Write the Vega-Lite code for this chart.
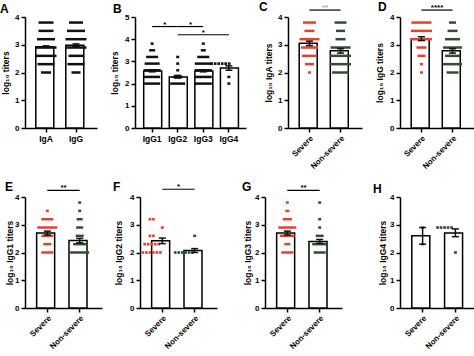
{
  "$schema": "https://vega.github.io/schema/vega-lite/v6.json",
  "padding": {"left": 0, "top": 0, "right": 0, "bottom": 0},
  "background": "white",
  "config": {
    "view": {"stroke": null},
    "font": "Liberation Sans",
    "axis": {"grid": false, "domainColor": "#000", "domainWidth": 1.5, "tickColor": "#000", "tickWidth": 1.5, "tickSize": 4, "labelColor": "#000", "titleColor": "#000", "labelFont": "Liberation Sans", "titleFont": "Liberation Sans", "labelFontWeight": "bold", "titleFontWeight": "bold", "labelFontSize": 8, "titleFontSize": 8.5, "labelPadding": 2},
    "axisX": {"labelFontSize": 8.5},
    "title": {"anchor": "start", "frame": "group", "fontSize": 12, "fontWeight": "bold", "font": "Liberation Sans", "color": "#000", "offset": -3},
    "tick": {"thickness": 2.5, "opacity": 1}
  },
  "datasets": {
    "bars": [
      {"p": "A", "g": "IgA", "mean": 2.93, "lo": 2.9, "hi": 2.96},
      {"p": "A", "g": "IgG", "mean": 2.98, "lo": 2.94, "hi": 3.03},
      {"p": "B", "g": "IgG1", "mean": 2.57, "lo": 2.53, "hi": 2.61},
      {"p": "B", "g": "IgG2", "mean": 2.3, "lo": 2.25, "hi": 2.37},
      {"p": "B", "g": "IgG3", "mean": 2.57, "lo": 2.53, "hi": 2.61},
      {"p": "B", "g": "IgG4", "mean": 2.7, "lo": 2.6, "hi": 2.8},
      {"p": "C", "g": "Severe", "mean": 3.05, "lo": 2.97, "hi": 3.13},
      {"p": "C", "g": "Non-severe", "mean": 2.78, "lo": 2.7, "hi": 2.86},
      {"p": "D", "g": "Severe", "mean": 3.22, "lo": 3.15, "hi": 3.29},
      {"p": "D", "g": "Non-severe", "mean": 2.78, "lo": 2.7, "hi": 2.86},
      {"p": "E", "g": "Severe", "mean": 2.7, "lo": 2.63, "hi": 2.77},
      {"p": "E", "g": "Non-severe", "mean": 2.43, "lo": 2.35, "hi": 2.51},
      {"p": "F", "g": "Severe", "mean": 2.42, "lo": 2.32, "hi": 2.52},
      {"p": "F", "g": "Non-severe", "mean": 2.07, "lo": 2.0, "hi": 2.14},
      {"p": "G", "g": "Severe", "mean": 2.7, "lo": 2.63, "hi": 2.77},
      {"p": "G", "g": "Non-severe", "mean": 2.4, "lo": 2.33, "hi": 2.47},
      {"p": "H", "g": "Severe", "mean": 2.6, "lo": 2.3, "hi": 2.9},
      {"p": "H", "g": "Non-severe", "mean": 2.7, "lo": 2.57, "hi": 2.85}
    ],
    "dots": [
      {"p": "A", "g": "IgA", "k": "pooled", "v": 3.8, "n": 13},
      {"p": "A", "g": "IgA", "k": "pooled", "v": 3.5, "n": 13},
      {"p": "A", "g": "IgA", "k": "pooled", "v": 3.2, "n": 16},
      {"p": "A", "g": "IgA", "k": "pooled", "v": 2.9, "n": 19},
      {"p": "A", "g": "IgA", "k": "pooled", "v": 2.6, "n": 19},
      {"p": "A", "g": "IgA", "k": "pooled", "v": 2.3, "n": 15},
      {"p": "A", "g": "IgA", "k": "pooled", "v": 2.0, "n": 8},
      {"p": "A", "g": "IgG", "k": "pooled", "v": 3.8, "n": 12},
      {"p": "A", "g": "IgG", "k": "pooled", "v": 3.5, "n": 16},
      {"p": "A", "g": "IgG", "k": "pooled", "v": 3.2, "n": 19},
      {"p": "A", "g": "IgG", "k": "pooled", "v": 2.9, "n": 19},
      {"p": "A", "g": "IgG", "k": "pooled", "v": 2.6, "n": 13},
      {"p": "A", "g": "IgG", "k": "pooled", "v": 2.3, "n": 15},
      {"p": "A", "g": "IgG", "k": "pooled", "v": 2.0, "n": 7},
      {"p": "B", "g": "IgG1", "k": "pooled", "v": 3.8, "n": 1},
      {"p": "B", "g": "IgG1", "k": "pooled", "v": 3.5, "n": 4},
      {"p": "B", "g": "IgG1", "k": "pooled", "v": 3.2, "n": 10},
      {"p": "B", "g": "IgG1", "k": "pooled", "v": 2.9, "n": 13},
      {"p": "B", "g": "IgG1", "k": "pooled", "v": 2.6, "n": 15},
      {"p": "B", "g": "IgG1", "k": "pooled", "v": 2.3, "n": 14},
      {"p": "B", "g": "IgG1", "k": "pooled", "v": 2.0, "n": 14},
      {"p": "B", "g": "IgG2", "k": "pooled", "v": 3.2, "n": 1},
      {"p": "B", "g": "IgG2", "k": "pooled", "v": 2.9, "n": 1},
      {"p": "B", "g": "IgG2", "k": "pooled", "v": 2.6, "n": 1},
      {"p": "B", "g": "IgG2", "k": "pooled", "v": 2.3, "n": 8},
      {"p": "B", "g": "IgG2", "k": "pooled", "v": 2.0, "n": 13},
      {"p": "B", "g": "IgG3", "k": "pooled", "v": 3.8, "n": 1},
      {"p": "B", "g": "IgG3", "k": "pooled", "v": 3.5, "n": 3},
      {"p": "B", "g": "IgG3", "k": "pooled", "v": 3.2, "n": 10},
      {"p": "B", "g": "IgG3", "k": "pooled", "v": 2.9, "n": 15},
      {"p": "B", "g": "IgG3", "k": "pooled", "v": 2.6, "n": 15},
      {"p": "B", "g": "IgG3", "k": "pooled", "v": 2.3, "n": 15},
      {"p": "B", "g": "IgG3", "k": "pooled", "v": 2.0, "n": 15},
      {"p": "B", "g": "IgG4", "k": "pooled", "v": 2.3, "n": 1},
      {"p": "B", "g": "IgG4", "k": "pooled", "v": 2.0, "n": 1},
      {"p": "C", "g": "Severe", "k": "Severe", "v": 3.8, "n": 11},
      {"p": "C", "g": "Severe", "k": "Severe", "v": 3.5, "n": 8},
      {"p": "C", "g": "Severe", "k": "Severe", "v": 3.2, "n": 18},
      {"p": "C", "g": "Severe", "k": "Severe", "v": 2.9, "n": 15},
      {"p": "C", "g": "Severe", "k": "Severe", "v": 2.6, "n": 13},
      {"p": "C", "g": "Severe", "k": "Severe", "v": 2.3, "n": 7},
      {"p": "C", "g": "Severe", "k": "Severe", "v": 2.0, "n": 1},
      {"p": "C", "g": "Non-severe", "k": "Non-severe", "v": 3.8, "n": 10},
      {"p": "C", "g": "Non-severe", "k": "Non-severe", "v": 3.5, "n": 7},
      {"p": "C", "g": "Non-severe", "k": "Non-severe", "v": 3.2, "n": 8},
      {"p": "C", "g": "Non-severe", "k": "Non-severe", "v": 2.9, "n": 18},
      {"p": "C", "g": "Non-severe", "k": "Non-severe", "v": 2.6, "n": 19},
      {"p": "C", "g": "Non-severe", "k": "Non-severe", "v": 2.3, "n": 19},
      {"p": "C", "g": "Non-severe", "k": "Non-severe", "v": 2.0, "n": 15},
      {"p": "D", "g": "Severe", "k": "Severe", "v": 3.8, "n": 18},
      {"p": "D", "g": "Severe", "k": "Severe", "v": 3.5, "n": 19},
      {"p": "D", "g": "Severe", "k": "Severe", "v": 3.2, "n": 19},
      {"p": "D", "g": "Severe", "k": "Severe", "v": 2.9, "n": 8},
      {"p": "D", "g": "Severe", "k": "Severe", "v": 2.6, "n": 6},
      {"p": "D", "g": "Severe", "k": "Severe", "v": 2.3, "n": 1},
      {"p": "D", "g": "Severe", "k": "Severe", "v": 2.0, "n": 1},
      {"p": "D", "g": "Non-severe", "k": "Non-severe", "v": 3.8, "n": 5},
      {"p": "D", "g": "Non-severe", "k": "Non-severe", "v": 3.5, "n": 8},
      {"p": "D", "g": "Non-severe", "k": "Non-severe", "v": 3.2, "n": 13},
      {"p": "D", "g": "Non-severe", "k": "Non-severe", "v": 2.9, "n": 17},
      {"p": "D", "g": "Non-severe", "k": "Non-severe", "v": 2.6, "n": 13},
      {"p": "D", "g": "Non-severe", "k": "Non-severe", "v": 2.3, "n": 17},
      {"p": "D", "g": "Non-severe", "k": "Non-severe", "v": 2.0, "n": 10},
      {"p": "E", "g": "Severe", "k": "Severe", "v": 3.5, "n": 1},
      {"p": "E", "g": "Severe", "k": "Severe", "v": 3.2, "n": 10},
      {"p": "E", "g": "Severe", "k": "Severe", "v": 2.9, "n": 18},
      {"p": "E", "g": "Severe", "k": "Severe", "v": 2.6, "n": 10},
      {"p": "E", "g": "Severe", "k": "Severe", "v": 2.3, "n": 6},
      {"p": "E", "g": "Severe", "k": "Severe", "v": 2.0, "n": 10},
      {"p": "E", "g": "Non-severe", "k": "Non-severe", "v": 3.8, "n": 1},
      {"p": "E", "g": "Non-severe", "k": "Non-severe", "v": 3.5, "n": 1},
      {"p": "E", "g": "Non-severe", "k": "Non-severe", "v": 3.2, "n": 4},
      {"p": "E", "g": "Non-severe", "k": "Non-severe", "v": 2.9, "n": 5},
      {"p": "E", "g": "Non-severe", "k": "Non-severe", "v": 2.6, "n": 6},
      {"p": "E", "g": "Non-severe", "k": "Non-severe", "v": 2.3, "n": 11},
      {"p": "E", "g": "Non-severe", "k": "Non-severe", "v": 2.0, "n": 17},
      {"p": "F", "g": "Severe", "k": "Severe", "v": 2.9, "n": 1},
      {"p": "F", "g": "Non-severe", "k": "Non-severe", "v": 2.6, "n": 1},
      {"p": "G", "g": "Severe", "k": "Severe", "v": 3.8, "n": 1},
      {"p": "G", "g": "Severe", "k": "Severe", "v": 3.5, "n": 2},
      {"p": "G", "g": "Severe", "k": "Severe", "v": 3.2, "n": 7},
      {"p": "G", "g": "Severe", "k": "Severe", "v": 2.9, "n": 16},
      {"p": "G", "g": "Severe", "k": "Severe", "v": 2.6, "n": 13},
      {"p": "G", "g": "Severe", "k": "Severe", "v": 2.3, "n": 4},
      {"p": "G", "g": "Severe", "k": "Severe", "v": 2.0, "n": 10},
      {"p": "G", "g": "Non-severe", "k": "Non-severe", "v": 3.8, "n": 1},
      {"p": "G", "g": "Non-severe", "k": "Non-severe", "v": 3.2, "n": 1},
      {"p": "G", "g": "Non-severe", "k": "Non-severe", "v": 2.9, "n": 1},
      {"p": "G", "g": "Non-severe", "k": "Non-severe", "v": 2.6, "n": 6},
      {"p": "G", "g": "Non-severe", "k": "Non-severe", "v": 2.3, "n": 13},
      {"p": "G", "g": "Non-severe", "k": "Non-severe", "v": 2.0, "n": 10},
      {"p": "H", "g": "Severe", "k": "Severe", "v": 2.9, "n": 1},
      {"p": "H", "g": "Severe", "k": "Severe", "v": 2.3, "n": 1},
      {"p": "H", "g": "Non-severe", "k": "Non-severe", "v": 2.0, "n": 1}
    ],
    "pts": [
      {"p": "B", "g": "IgG4", "k": "pooled", "v": 2.9, "s": -2.5},
      {"p": "B", "g": "IgG4", "k": "pooled", "v": 2.9, "s": -1.5},
      {"p": "B", "g": "IgG4", "k": "pooled", "v": 2.9, "s": -0.5},
      {"p": "B", "g": "IgG4", "k": "pooled", "v": 2.9, "s": 0.5},
      {"p": "B", "g": "IgG4", "k": "pooled", "v": 2.9, "s": 1.5},
      {"p": "B", "g": "IgG4", "k": "pooled", "v": 2.9, "s": 2.5},
      {"p": "F", "g": "Severe", "k": "Severe", "v": 3.2, "s": -0.5},
      {"p": "F", "g": "Severe", "k": "Severe", "v": 3.2, "s": 0.5},
      {"p": "F", "g": "Severe", "k": "Severe", "v": 2.6, "s": -0.5},
      {"p": "F", "g": "Severe", "k": "Severe", "v": 2.6, "s": 0.5},
      {"p": "F", "g": "Severe", "k": "Severe", "v": 2.3, "s": -2},
      {"p": "F", "g": "Severe", "k": "Severe", "v": 2.3, "s": -1},
      {"p": "F", "g": "Severe", "k": "Severe", "v": 2.3, "s": 0},
      {"p": "F", "g": "Severe", "k": "Severe", "v": 2.3, "s": 1},
      {"p": "F", "g": "Severe", "k": "Severe", "v": 2.3, "s": 2},
      {"p": "F", "g": "Severe", "k": "Severe", "v": 2.0, "s": -2.5},
      {"p": "F", "g": "Severe", "k": "Severe", "v": 2.0, "s": -1.5},
      {"p": "F", "g": "Severe", "k": "Severe", "v": 2.0, "s": -0.5},
      {"p": "F", "g": "Severe", "k": "Severe", "v": 2.0, "s": 0.5},
      {"p": "F", "g": "Severe", "k": "Severe", "v": 2.0, "s": 1.5},
      {"p": "F", "g": "Severe", "k": "Severe", "v": 2.0, "s": 2.5},
      {"p": "F", "g": "Non-severe", "k": "Non-severe", "v": 2.0, "s": -2.5},
      {"p": "F", "g": "Non-severe", "k": "Non-severe", "v": 2.0, "s": -1.5},
      {"p": "F", "g": "Non-severe", "k": "Non-severe", "v": 2.0, "s": -0.5},
      {"p": "F", "g": "Non-severe", "k": "Non-severe", "v": 2.0, "s": 0.5},
      {"p": "F", "g": "Non-severe", "k": "Non-severe", "v": 2.0, "s": 1.5},
      {"p": "F", "g": "Non-severe", "k": "Non-severe", "v": 2.0, "s": 2.5},
      {"p": "H", "g": "Non-severe", "k": "Non-severe", "v": 2.9, "s": -2},
      {"p": "H", "g": "Non-severe", "k": "Non-severe", "v": 2.9, "s": -1},
      {"p": "H", "g": "Non-severe", "k": "Non-severe", "v": 2.9, "s": 0},
      {"p": "H", "g": "Non-severe", "k": "Non-severe", "v": 2.9, "s": 1},
      {"p": "H", "g": "Non-severe", "k": "Non-severe", "v": 2.9, "s": 2}
    ],
    "sig": [
      {"p": "B", "g": "IgG1", "g2": "IgG2", "v": 4.57, "label": "*"},
      {"p": "B", "g": "IgG2", "g2": "IgG3", "v": 4.57, "label": "*"},
      {"p": "B", "g": "IgG2", "g2": "IgG4", "v": 4.2, "label": "*"},
      {"p": "C", "g": "Severe", "g2": "Non-severe", "v": 4.25, "label": "**"},
      {"p": "D", "g": "Severe", "g2": "Non-severe", "v": 4.25, "label": "****"},
      {"p": "E", "g": "Severe", "g2": "Non-severe", "v": 4.24, "label": "**"},
      {"p": "F", "g": "Severe", "g2": "Non-severe", "v": 4.28, "label": "*"},
      {"p": "G", "g": "Severe", "g2": "Non-severe", "v": 4.24, "label": "**"}
    ]
  },
  "vconcat": [
    {
      "spacing": 13,
      "hconcat": [
        {
          "width": 72, "height": 111,
          "title": {"text": "A", "dx": -25, "offset": -3},
          "encoding": {"x": {"field": "g", "type": "nominal", "scale": {"domain": ["IgA", "IgG"], "paddingInner": 0.32, "paddingOuter": 0.36}, "axis": {"title": null, "labelAngle": 0}}},
          "layer": [
            {"data": {"name": "bars"}, "transform": [{"filter": "datum.p === 'A'"}], "mark": {"type": "bar", "fill": "white", "stroke": "#000", "strokeWidth": 1.5}, "encoding": {"y": {"field": "mean", "type": "quantitative", "scale": {"domain": [0, 4]}, "axis": {"title": "log₁₀ titers", "values": [0, 1, 2, 3, 4], "titlePadding": 4}}}},
            {"data": {"name": "dots"}, "transform": [{"filter": "datum.p === 'A'"}], "mark": {"type": "tick"}, "encoding": {"y": {"field": "v", "type": "quantitative", "axis": {"title": "log₁₀ titers", "values": [0, 1, 2, 3, 4], "titlePadding": 4}}, "size": {"field": "n", "type": "quantitative", "scale": {"domain": [1, 20], "range": [3, 22]}, "legend": null}, "color": {"field": "k", "type": "nominal", "scale": {"domain": ["pooled", "Severe", "Non-severe"], "range": ["#111111", "#e5402d", "#2f4f2f"]}, "legend": null}}},
            {"data": {"name": "bars"}, "transform": [{"filter": "datum.p === 'A'"}], "mark": {"type": "errorbar", "ticks": {"size": 7}, "thickness": 1.5, "color": "#111"}, "encoding": {"y": {"field": "lo", "type": "quantitative", "axis": {"title": "log₁₀ titers", "values": [0, 1, 2, 3, 4], "titlePadding": 4}}, "y2": {"field": "hi"}}}
          ]
        },
        {
          "width": 111, "height": 111,
          "title": {"text": "B", "dx": -22, "offset": -3},
          "encoding": {"x": {"field": "g", "type": "nominal", "scale": {"domain": ["IgG1", "IgG2", "IgG3", "IgG4"], "paddingInner": 0.34, "paddingOuter": 0.34}, "axis": {"title": null, "labelAngle": 0}}},
          "layer": [
            {"data": {"name": "bars"}, "transform": [{"filter": "datum.p === 'B'"}], "mark": {"type": "bar", "fill": "white", "stroke": "#000", "strokeWidth": 1.5}, "encoding": {"y": {"field": "mean", "type": "quantitative", "scale": {"domain": [0, 5]}, "axis": {"title": "log₁₀ titers", "values": [0, 1, 2, 3, 4, 5], "titlePadding": 5}}}},
            {"data": {"name": "dots"}, "transform": [{"filter": "datum.p === 'B'"}], "mark": {"type": "tick"}, "encoding": {"y": {"field": "v", "type": "quantitative", "axis": {"title": "log₁₀ titers", "values": [0, 1, 2, 3, 4, 5], "titlePadding": 5}}, "size": {"field": "n", "type": "quantitative", "scale": {"domain": [1, 20], "range": [3, 22]}, "legend": null}, "color": {"field": "k", "type": "nominal", "scale": {"domain": ["pooled", "Severe", "Non-severe"], "range": ["#111111", "#e5402d", "#2f4f2f"]}, "legend": null}}},
            {"data": {"name": "pts"}, "transform": [{"filter": "datum.p === 'B'"}], "mark": {"type": "point", "shape": "square", "filled": true, "size": 7, "opacity": 1}, "encoding": {"xOffset": {"field": "s", "type": "quantitative", "scale": {"domain": [-3, 3], "range": [-10.5, 10.5]}}, "y": {"field": "v", "type": "quantitative", "axis": {"title": "log₁₀ titers", "values": [0, 1, 2, 3, 4, 5], "titlePadding": 5}}, "color": {"field": "k", "type": "nominal", "scale": {"domain": ["pooled", "Severe", "Non-severe"], "range": ["#111111", "#e5402d", "#2f4f2f"]}, "legend": null}}},
            {"data": {"name": "bars"}, "transform": [{"filter": "datum.p === 'B'"}], "mark": {"type": "errorbar", "ticks": {"size": 7}, "thickness": 1.5, "color": "#111"}, "encoding": {"y": {"field": "lo", "type": "quantitative", "axis": {"title": "log₁₀ titers", "values": [0, 1, 2, 3, 4, 5], "titlePadding": 5}}, "y2": {"field": "hi"}}},
            {"data": {"name": "sig"}, "transform": [{"filter": "datum.p === 'B'"}], "mark": {"type": "rule", "strokeWidth": 1.2, "color": "#000"}, "encoding": {"x2": {"field": "g2"}, "y": {"field": "v", "type": "quantitative", "axis": {"title": "log₁₀ titers", "values": [0, 1, 2, 3, 4, 5], "titlePadding": 5}}}},
            {"data": {"name": "sig"}, "transform": [{"filter": "datum.p === 'B' && datum.v > 4.4"}], "mark": {"type": "text", "baseline": "bottom", "dy": 2, "fontSize": 8, "fontWeight": "bold", "color": "#000"}, "encoding": {"x": {"field": "g", "type": "nominal", "bandPosition": 1.258, "axis": {"title": null, "labelAngle": 0}}, "y": {"field": "v", "type": "quantitative", "axis": {"title": "log₁₀ titers", "values": [0, 1, 2, 3, 4, 5], "titlePadding": 5}}, "text": {"field": "label"}}},
            {"data": {"name": "sig"}, "transform": [{"filter": "datum.p === 'B' && datum.v < 4.4"}], "mark": {"type": "text", "baseline": "bottom", "dy": 2, "fontSize": 8, "fontWeight": "bold", "color": "#000"}, "encoding": {"x": {"field": "g", "type": "nominal", "bandPosition": 2.015, "axis": {"title": null, "labelAngle": 0}}, "y": {"field": "v", "type": "quantitative", "axis": {"title": "log₁₀ titers", "values": [0, 1, 2, 3, 4, 5], "titlePadding": 5}}, "text": {"field": "label"}}}
          ]
        },
        {
          "width": 74, "height": 111,
          "title": {"text": "C", "dx": -29, "offset": -9.5},
          "encoding": {"x": {"field": "g", "type": "nominal", "scale": {"domain": ["Severe", "Non-severe"], "paddingInner": 0.34, "paddingOuter": 0.36}, "axis": {"title": null, "labelAngle": -45, "labelFontSize": 8}}},
          "layer": [
            {"data": {"name": "bars"}, "transform": [{"filter": "datum.p === 'C'"}], "mark": {"type": "bar", "fill": "white", "stroke": "#000", "strokeWidth": 1.5}, "encoding": {"y": {"field": "mean", "type": "quantitative", "scale": {"domain": [0, 4]}, "axis": {"title": "log₁₀ IgA titers", "values": [0, 1, 2, 3, 4], "titlePadding": 4}}}},
            {"data": {"name": "dots"}, "transform": [{"filter": "datum.p === 'C'"}], "mark": {"type": "tick"}, "encoding": {"y": {"field": "v", "type": "quantitative", "axis": {"title": "log₁₀ IgA titers", "values": [0, 1, 2, 3, 4], "titlePadding": 4}}, "size": {"field": "n", "type": "quantitative", "scale": {"domain": [1, 20], "range": [3, 22]}, "legend": null}, "color": {"field": "k", "type": "nominal", "scale": {"domain": ["pooled", "Severe", "Non-severe"], "range": ["#111111", "#e5402d", "#2f4f2f"]}, "legend": null}}},
            {"data": {"name": "bars"}, "transform": [{"filter": "datum.p === 'C'"}], "mark": {"type": "errorbar", "ticks": {"size": 7}, "thickness": 1.5, "color": "#111"}, "encoding": {"y": {"field": "lo", "type": "quantitative", "axis": {"title": "log₁₀ IgA titers", "values": [0, 1, 2, 3, 4], "titlePadding": 4}}, "y2": {"field": "hi"}}},
            {"data": {"name": "sig"}, "transform": [{"filter": "datum.p === 'C'"}], "mark": {"type": "rule", "strokeWidth": 1.2, "color": "#000"}, "encoding": {"x2": {"field": "g2"}, "y": {"field": "v", "type": "quantitative", "axis": {"title": "log₁₀ IgA titers", "values": [0, 1, 2, 3, 4], "titlePadding": 4}}}},
            {"data": {"name": "sig"}, "transform": [{"filter": "datum.p === 'C'"}], "mark": {"type": "text", "baseline": "bottom", "dy": 2, "fontSize": 8, "fontWeight": "bold", "color": "#aaaaaa"}, "encoding": {"x": {"field": "g", "type": "nominal", "bandPosition": 1.258, "axis": {"title": null, "labelAngle": -45, "labelFontSize": 8}}, "y": {"field": "v", "type": "quantitative", "axis": {"title": "log₁₀ IgA titers", "values": [0, 1, 2, 3, 4], "titlePadding": 4}}, "text": {"field": "label"}}}
          ]
        },
        {
          "width": 74, "height": 111,
          "title": {"text": "D", "dx": -22, "offset": -9.5},
          "encoding": {"x": {"field": "g", "type": "nominal", "scale": {"domain": ["Severe", "Non-severe"], "paddingInner": 0.34, "paddingOuter": 0.36}, "axis": {"title": null, "labelAngle": -45, "labelFontSize": 8}}},
          "layer": [
            {"data": {"name": "bars"}, "transform": [{"filter": "datum.p === 'D'"}], "mark": {"type": "bar", "fill": "white", "stroke": "#000", "strokeWidth": 1.5}, "encoding": {"y": {"field": "mean", "type": "quantitative", "scale": {"domain": [0, 4]}, "axis": {"title": "log₁₀ IgG titers", "values": [0, 1, 2, 3, 4], "titlePadding": 5}}}},
            {"data": {"name": "dots"}, "transform": [{"filter": "datum.p === 'D'"}], "mark": {"type": "tick"}, "encoding": {"y": {"field": "v", "type": "quantitative", "axis": {"title": "log₁₀ IgG titers", "values": [0, 1, 2, 3, 4], "titlePadding": 5}}, "size": {"field": "n", "type": "quantitative", "scale": {"domain": [1, 20], "range": [3, 22]}, "legend": null}, "color": {"field": "k", "type": "nominal", "scale": {"domain": ["pooled", "Severe", "Non-severe"], "range": ["#111111", "#e5402d", "#2f4f2f"]}, "legend": null}}},
            {"data": {"name": "bars"}, "transform": [{"filter": "datum.p === 'D'"}], "mark": {"type": "errorbar", "ticks": {"size": 7}, "thickness": 1.5, "color": "#111"}, "encoding": {"y": {"field": "lo", "type": "quantitative", "axis": {"title": "log₁₀ IgG titers", "values": [0, 1, 2, 3, 4], "titlePadding": 5}}, "y2": {"field": "hi"}}},
            {"data": {"name": "sig"}, "transform": [{"filter": "datum.p === 'D'"}], "mark": {"type": "rule", "strokeWidth": 1.2, "color": "#000"}, "encoding": {"x2": {"field": "g2"}, "y": {"field": "v", "type": "quantitative", "axis": {"title": "log₁₀ IgG titers", "values": [0, 1, 2, 3, 4], "titlePadding": 5}}}},
            {"data": {"name": "sig"}, "transform": [{"filter": "datum.p === 'D'"}], "mark": {"type": "text", "baseline": "bottom", "dy": 2, "fontSize": 8, "fontWeight": "bold", "color": "#000"}, "encoding": {"x": {"field": "g", "type": "nominal", "bandPosition": 1.258, "axis": {"title": null, "labelAngle": -45, "labelFontSize": 8}}, "y": {"field": "v", "type": "quantitative", "axis": {"title": "log₁₀ IgG titers", "values": [0, 1, 2, 3, 4], "titlePadding": 5}}, "text": {"field": "label"}}}
          ]
        }
      ]
    },
    {
      "spacing": 25,
      "hconcat": [
        {
          "spacing": 11,
          "hconcat": [
            {
              "width": 77, "height": 111,
              "title": {"text": "E", "dx": -20, "offset": -9.5},
              "encoding": {"x": {"field": "g", "type": "nominal", "scale": {"domain": ["Severe", "Non-severe"], "paddingInner": 0.34, "paddingOuter": 0.36}, "axis": {"title": null, "labelAngle": -45, "labelFontSize": 8}}},
              "layer": [
                {"data": {"name": "bars"}, "transform": [{"filter": "datum.p === 'E'"}], "mark": {"type": "bar", "fill": "white", "stroke": "#000", "strokeWidth": 1.5}, "encoding": {"y": {"field": "mean", "type": "quantitative", "scale": {"domain": [0, 4]}, "axis": {"title": "log₁₀ IgG1 titers", "values": [0, 1, 2, 3, 4], "titlePadding": 0.5}}}},
                {"data": {"name": "dots"}, "transform": [{"filter": "datum.p === 'E'"}], "mark": {"type": "tick"}, "encoding": {"y": {"field": "v", "type": "quantitative", "axis": {"title": "log₁₀ IgG1 titers", "values": [0, 1, 2, 3, 4], "titlePadding": 0.5}}, "size": {"field": "n", "type": "quantitative", "scale": {"domain": [1, 20], "range": [3, 22]}, "legend": null}, "color": {"field": "k", "type": "nominal", "scale": {"domain": ["pooled", "Severe", "Non-severe"], "range": ["#111111", "#e5402d", "#2f4f2f"]}, "legend": null}}},
                {"data": {"name": "bars"}, "transform": [{"filter": "datum.p === 'E'"}], "mark": {"type": "errorbar", "ticks": {"size": 7}, "thickness": 1.5, "color": "#111"}, "encoding": {"y": {"field": "lo", "type": "quantitative", "axis": {"title": "log₁₀ IgG1 titers", "values": [0, 1, 2, 3, 4], "titlePadding": 0.5}}, "y2": {"field": "hi"}}},
                {"data": {"name": "sig"}, "transform": [{"filter": "datum.p === 'E'"}], "mark": {"type": "rule", "strokeWidth": 1.2, "color": "#000"}, "encoding": {"x2": {"field": "g2"}, "y": {"field": "v", "type": "quantitative", "axis": {"title": "log₁₀ IgG1 titers", "values": [0, 1, 2, 3, 4], "titlePadding": 0.5}}}},
                {"data": {"name": "sig"}, "transform": [{"filter": "datum.p === 'E'"}], "mark": {"type": "text", "baseline": "bottom", "dy": 2, "fontSize": 8, "fontWeight": "bold", "color": "#000"}, "encoding": {"x": {"field": "g", "type": "nominal", "bandPosition": 1.258, "axis": {"title": null, "labelAngle": -45, "labelFontSize": 8}}, "y": {"field": "v", "type": "quantitative", "axis": {"title": "log₁₀ IgG1 titers", "values": [0, 1, 2, 3, 4], "titlePadding": 0.5}}, "text": {"field": "label"}}}
              ]
            },
            {
              "width": 77, "height": 111,
              "title": {"text": "F", "dx": -27, "offset": -10.5},
              "encoding": {"x": {"field": "g", "type": "nominal", "scale": {"domain": ["Severe", "Non-severe"], "paddingInner": 0.34, "paddingOuter": 0.36}, "axis": {"title": null, "labelAngle": -45, "labelFontSize": 8}}},
              "layer": [
                {"data": {"name": "bars"}, "transform": [{"filter": "datum.p === 'F'"}], "mark": {"type": "bar", "fill": "white", "stroke": "#000", "strokeWidth": 1.5}, "encoding": {"y": {"field": "mean", "type": "quantitative", "scale": {"domain": [0, 4]}, "axis": {"title": "log₁₀ IgG2 titers", "values": [0, 1, 2, 3, 4], "titlePadding": 6.5}}}},
                {"data": {"name": "dots"}, "transform": [{"filter": "datum.p === 'F'"}], "mark": {"type": "tick"}, "encoding": {"y": {"field": "v", "type": "quantitative", "axis": {"title": "log₁₀ IgG2 titers", "values": [0, 1, 2, 3, 4], "titlePadding": 6.5}}, "size": {"field": "n", "type": "quantitative", "scale": {"domain": [1, 20], "range": [3, 22]}, "legend": null}, "color": {"field": "k", "type": "nominal", "scale": {"domain": ["pooled", "Severe", "Non-severe"], "range": ["#111111", "#e5402d", "#2f4f2f"]}, "legend": null}}},
                {"data": {"name": "pts"}, "transform": [{"filter": "datum.p === 'F'"}], "mark": {"type": "point", "shape": "square", "filled": true, "size": 7, "opacity": 1}, "encoding": {"xOffset": {"field": "s", "type": "quantitative", "scale": {"domain": [-3, 3], "range": [-12, 12]}}, "y": {"field": "v", "type": "quantitative", "axis": {"title": "log₁₀ IgG2 titers", "values": [0, 1, 2, 3, 4], "titlePadding": 6.5}}, "color": {"field": "k", "type": "nominal", "scale": {"domain": ["pooled", "Severe", "Non-severe"], "range": ["#111111", "#e5402d", "#2f4f2f"]}, "legend": null}}},
                {"data": {"name": "bars"}, "transform": [{"filter": "datum.p === 'F'"}], "mark": {"type": "errorbar", "ticks": {"size": 7}, "thickness": 1.5, "color": "#111"}, "encoding": {"y": {"field": "lo", "type": "quantitative", "axis": {"title": "log₁₀ IgG2 titers", "values": [0, 1, 2, 3, 4], "titlePadding": 6.5}}, "y2": {"field": "hi"}}},
                {"data": {"name": "sig"}, "transform": [{"filter": "datum.p === 'F'"}], "mark": {"type": "rule", "strokeWidth": 1.2, "color": "#000"}, "encoding": {"x2": {"field": "g2"}, "y": {"field": "v", "type": "quantitative", "axis": {"title": "log₁₀ IgG2 titers", "values": [0, 1, 2, 3, 4], "titlePadding": 6.5}}}},
                {"data": {"name": "sig"}, "transform": [{"filter": "datum.p === 'F'"}], "mark": {"type": "text", "baseline": "bottom", "dy": 2, "fontSize": 8, "fontWeight": "bold", "color": "#000"}, "encoding": {"x": {"field": "g", "type": "nominal", "bandPosition": 1.258, "axis": {"title": null, "labelAngle": -45, "labelFontSize": 8}}, "y": {"field": "v", "type": "quantitative", "axis": {"title": "log₁₀ IgG2 titers", "values": [0, 1, 2, 3, 4], "titlePadding": 6.5}}, "text": {"field": "label"}}}
              ]
            }
          ]
        },
        {
          "spacing": 31,
          "hconcat": [
            {
              "width": 77, "height": 111,
              "title": {"text": "G", "dx": -23, "offset": -9.5},
              "encoding": {"x": {"field": "g", "type": "nominal", "scale": {"domain": ["Severe", "Non-severe"], "paddingInner": 0.34, "paddingOuter": 0.36}, "axis": {"title": null, "labelAngle": -45, "labelFontSize": 8}}},
              "layer": [
                {"data": {"name": "bars"}, "transform": [{"filter": "datum.p === 'G'"}], "mark": {"type": "bar", "fill": "white", "stroke": "#000", "strokeWidth": 1.5}, "encoding": {"y": {"field": "mean", "type": "quantitative", "scale": {"domain": [0, 4]}, "axis": {"title": "log₁₀ IgG3 titers", "values": [0, 1, 2, 3, 4], "titlePadding": 2}}}},
                {"data": {"name": "dots"}, "transform": [{"filter": "datum.p === 'G'"}], "mark": {"type": "tick"}, "encoding": {"y": {"field": "v", "type": "quantitative", "axis": {"title": "log₁₀ IgG3 titers", "values": [0, 1, 2, 3, 4], "titlePadding": 2}}, "size": {"field": "n", "type": "quantitative", "scale": {"domain": [1, 20], "range": [3, 22]}, "legend": null}, "color": {"field": "k", "type": "nominal", "scale": {"domain": ["pooled", "Severe", "Non-severe"], "range": ["#111111", "#e5402d", "#2f4f2f"]}, "legend": null}}},
                {"data": {"name": "bars"}, "transform": [{"filter": "datum.p === 'G'"}], "mark": {"type": "errorbar", "ticks": {"size": 7}, "thickness": 1.5, "color": "#111"}, "encoding": {"y": {"field": "lo", "type": "quantitative", "axis": {"title": "log₁₀ IgG3 titers", "values": [0, 1, 2, 3, 4], "titlePadding": 2}}, "y2": {"field": "hi"}}},
                {"data": {"name": "sig"}, "transform": [{"filter": "datum.p === 'G'"}], "mark": {"type": "rule", "strokeWidth": 1.2, "color": "#000"}, "encoding": {"x2": {"field": "g2"}, "y": {"field": "v", "type": "quantitative", "axis": {"title": "log₁₀ IgG3 titers", "values": [0, 1, 2, 3, 4], "titlePadding": 2}}}},
                {"data": {"name": "sig"}, "transform": [{"filter": "datum.p === 'G'"}], "mark": {"type": "text", "baseline": "bottom", "dy": 2, "fontSize": 8, "fontWeight": "bold", "color": "#000"}, "encoding": {"x": {"field": "g", "type": "nominal", "bandPosition": 1.258, "axis": {"title": null, "labelAngle": -45, "labelFontSize": 8}}, "y": {"field": "v", "type": "quantitative", "axis": {"title": "log₁₀ IgG3 titers", "values": [0, 1, 2, 3, 4], "titlePadding": 2}}, "text": {"field": "label"}}}
              ]
            },
            {
              "width": 78, "height": 111,
              "title": {"text": "H", "dx": -27, "offset": -3},
              "encoding": {"x": {"field": "g", "type": "nominal", "scale": {"domain": ["Severe", "Non-severe"], "paddingInner": 0.34, "paddingOuter": 0.36}, "axis": {"title": null, "labelAngle": -45, "labelFontSize": 8}}},
              "layer": [
                {"data": {"name": "bars"}, "transform": [{"filter": "datum.p === 'H'"}], "mark": {"type": "bar", "fill": "white", "stroke": "#000", "strokeWidth": 1.5}, "encoding": {"y": {"field": "mean", "type": "quantitative", "scale": {"domain": [0, 4]}, "axis": {"title": "log₁₀ IgG4 titers", "values": [0, 1, 2, 3, 4], "titlePadding": 2}}}},
                {"data": {"name": "dots"}, "transform": [{"filter": "datum.p === 'H'"}], "mark": {"type": "tick"}, "encoding": {"y": {"field": "v", "type": "quantitative", "axis": {"title": "log₁₀ IgG4 titers", "values": [0, 1, 2, 3, 4], "titlePadding": 2}}, "size": {"field": "n", "type": "quantitative", "scale": {"domain": [1, 20], "range": [3, 22]}, "legend": null}, "color": {"field": "k", "type": "nominal", "scale": {"domain": ["pooled", "Severe", "Non-severe"], "range": ["#111111", "#e5402d", "#2f4f2f"]}, "legend": null}}},
                {"data": {"name": "pts"}, "transform": [{"filter": "datum.p === 'H'"}], "mark": {"type": "point", "shape": "square", "filled": true, "size": 7, "opacity": 1}, "encoding": {"xOffset": {"field": "s", "type": "quantitative", "scale": {"domain": [-3, 3], "range": [-12, 12]}}, "y": {"field": "v", "type": "quantitative", "axis": {"title": "log₁₀ IgG4 titers", "values": [0, 1, 2, 3, 4], "titlePadding": 2}}, "color": {"field": "k", "type": "nominal", "scale": {"domain": ["pooled", "Severe", "Non-severe"], "range": ["#111111", "#e5402d", "#2f4f2f"]}, "legend": null}}},
                {"data": {"name": "bars"}, "transform": [{"filter": "datum.p === 'H'"}], "mark": {"type": "errorbar", "ticks": {"size": 7}, "thickness": 1.5, "color": "#111"}, "encoding": {"y": {"field": "lo", "type": "quantitative", "axis": {"title": "log₁₀ IgG4 titers", "values": [0, 1, 2, 3, 4], "titlePadding": 2}}, "y2": {"field": "hi"}}}
              ]
            }
          ]
        }
      ]
    }
  ],
  "spacing": 9
}
